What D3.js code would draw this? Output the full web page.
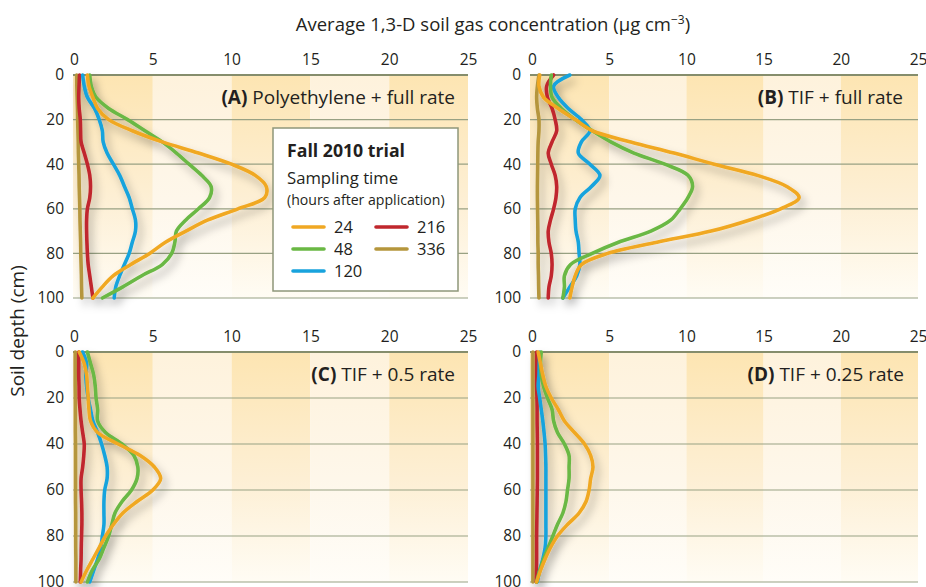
<!DOCTYPE html>
<html><head><meta charset="utf-8">
<script src="https://cdn.jsdelivr.net/npm/d3@7"></script>
<style>
html,body{margin:0;padding:0;background:#fff;}
svg{display:block;}
text{font-family:"Open Sans","Noto Sans",sans-serif;fill:#231f20;}
</style></head>
<body>
<svg id="chart" width="926" height="587"></svg>
<script>
// ---- data ----
const depths = [0,5,10,15,20,25,30,35,40,45,50,55,60,65,70,75,80,85,90,95,100];
const xTicks = [0,5,10,15,20,25];
const yTicks = [0,20,40,60,80,100];
const hours = ["24","48","120","216","336"];
const hourColors = ["#f0a823","#6ab844","#18a3dd","#c0272d","#b5963c"];

// Panel A: Polyethylene + full rate
const a24  = [0.85,0.95,1.2,1.5,2.2,3.7,5.6,7.9,10.0,11.5,12.2,12.1,10.4,8.5,7.1,5.8,4.8,3.6,2.5,1.8,1.2];
const a48  = [1.0,1.1,1.4,2.2,3.4,4.5,5.6,6.5,7.3,8.1,8.7,8.6,7.9,7.1,6.5,6.4,6.2,5.6,4.3,3.1,1.8];
const a120 = [0.55,0.65,0.85,1.3,1.6,1.8,1.85,2.1,2.5,2.9,3.2,3.5,3.7,3.9,3.9,3.7,3.5,3.2,2.9,2.65,2.55];
const a216 = [0.35,0.32,0.3,0.33,0.4,0.42,0.45,0.65,0.85,1.0,1.05,1.0,0.85,0.8,0.8,0.82,0.85,0.9,1.0,1.1,1.2];
const a336 = [0.17,0.18,0.2,0.22,0.23,0.25,0.27,0.28,0.3,0.32,0.33,0.35,0.37,0.38,0.4,0.42,0.43,0.45,0.47,0.48,0.5];
// Panel B: TIF + full rate
const b24  = [0.5,0.45,0.75,1.7,2.8,3.9,6.4,9.2,11.8,14.6,16.5,17.3,16.1,14.1,11.6,8.1,4.9,3.2,2.8,2.6,2.45];
const b48  = [1.25,1.2,1.3,1.9,2.8,3.9,5.1,6.6,8.6,10.1,10.4,10.1,9.6,9.0,7.7,5.6,3.9,2.5,2.1,2.1,2.0];
const b120 = [2.45,1.4,1.7,2.35,3.2,3.75,3.2,3.0,3.75,4.4,3.85,3.1,2.8,2.8,2.85,3.0,3.05,3.1,2.9,2.45,2.0];
const b216 = [1.4,0.95,1.0,1.3,1.5,1.6,1.3,1.05,1.25,1.5,1.6,1.55,1.4,1.2,1.05,1.1,1.25,1.3,1.25,1.1,1.05];
const b336 = [0.45,0.35,0.3,0.35,0.45,0.45,0.4,0.38,0.37,0.36,0.35,0.35,0.36,0.37,0.38,0.38,0.4,0.4,0.42,0.43,0.45];
// Panel C: TIF + 0.5 rate
const c24  = [0.33,0.65,0.8,0.85,0.9,0.95,1.05,1.5,2.8,4.2,5.1,5.5,5.0,4.0,3.1,2.5,2.0,1.6,1.2,0.8,0.45];
const c48  = [0.85,1.05,1.25,1.35,1.4,1.5,1.5,2.0,3.05,3.8,4.05,4.0,3.65,3.05,2.6,2.4,2.2,1.9,1.6,1.15,0.85];
const c120 = [0.55,0.8,0.75,0.8,0.9,1.05,1.2,1.5,1.75,1.95,2.1,2.1,1.95,1.9,1.9,1.9,1.8,1.7,1.5,1.25,1.0];
const c216 = [0.3,0.3,0.3,0.32,0.33,0.38,0.45,0.55,0.65,0.62,0.55,0.45,0.45,0.48,0.5,0.5,0.48,0.46,0.45,0.42,0.4];
const c336 = [0.08,0.08,0.08,0.08,0.09,0.09,0.09,0.09,0.1,0.1,0.1,0.1,0.1,0.1,0.11,0.11,0.11,0.11,0.12,0.12,0.12];
// Panel D: TIF + 0.25 rate
const d24  = [0.4,0.55,0.7,0.9,1.25,1.7,2.1,2.75,3.4,3.8,3.95,3.8,3.7,3.5,3.05,2.3,1.65,1.2,0.85,0.55,0.3];
const d48  = [0.6,0.55,0.6,0.75,1.0,1.3,1.4,1.65,2.1,2.4,2.4,2.4,2.3,2.2,2.0,1.65,1.35,1.05,0.75,0.5,0.3];
const d120 = [0.5,0.47,0.45,0.4,0.5,0.6,0.7,0.78,0.85,0.88,0.9,0.9,0.9,0.9,0.9,0.9,0.9,0.85,0.7,0.5,0.35];
const d216 = [0.3,0.3,0.3,0.3,0.32,0.33,0.33,0.34,0.35,0.35,0.35,0.35,0.34,0.33,0.32,0.31,0.3,0.3,0.3,0.29,0.28];
const d336 = [0.06,0.06,0.06,0.06,0.06,0.06,0.06,0.06,0.06,0.06,0.06,0.06,0.06,0.06,0.06,0.06,0.06,0.06,0.06,0.06,0.06];

const panelKeys = ["(A)","(B)","(C)","(D)"];
const panelTitles = [" Polyethylene + full rate"," TIF + full rate"," TIF + 0.5 rate"," TIF + 0.25 rate"];
const panelSeries = [[a24,a48,a120,a216,a336],[b24,b48,b120,b216,b336],[c24,c48,c120,c216,c336],[d24,d48,d120,d216,d336]];

// ---- layout ----
const svg = d3.select("#chart");
const layouts = [
  {x0:74, x1:468, y0:75, y1:298, left:73, lx:455},
  {x0:532, x1:918, y0:75, y1:298, left:530, lx:903},
  {x0:74, x1:468, y0:352, y1:582, left:73, lx:455},
  {x0:532, x1:918, y0:352, y1:582, left:530, lx:904}
];

const defs = svg.append("defs");
function grad(id, top, mid, bot){
  const g = defs.append("linearGradient").attr("id",id).attr("x1",0).attr("y1",0).attr("x2",0).attr("y2",1);
  g.append("stop").attr("offset","0%").attr("stop-color",top);
  g.append("stop").attr("offset","55%").attr("stop-color",mid);
  g.append("stop").attr("offset","100%").attr("stop-color",bot);
}
grad("bandDark","#fde5b2","#fdefd4","#fffcf4");
grad("bandLight","#fef2dc","#fef7ea","#fffdf8");
const f = defs.append("filter").attr("id","shadow").attr("x","-20%").attr("y","-20%").attr("width","160%").attr("height","160%");
f.append("feGaussianBlur").attr("in","SourceAlpha").attr("stdDeviation",4).attr("result","b");
f.append("feOffset").attr("in","b").attr("dx",4).attr("dy",6).attr("result","o");
f.append("feFlood").attr("flood-color","#000").attr("flood-opacity",0.3);
f.append("feComposite").attr("in2","o").attr("operator","in").attr("result","s");
const m = f.append("feMerge");
m.append("feMergeNode").attr("in","s");
m.append("feMergeNode").attr("in","SourceGraphic");

// title
const t = svg.append("text").attr("x",493).attr("y",31).attr("text-anchor","middle").style("font-size","18.5px");
t.append("tspan").text("Average 1,3-D soil gas concentration (µg cm");
t.append("tspan").attr("dy",-7).style("font-size","12px").text("−3");
t.append("tspan").attr("dy",7).text(")");

// y axis title
svg.append("text").attr("transform","translate(24,331) rotate(-90)").attr("text-anchor","middle")
  .style("font-size","19px").text("Soil depth (cm)");

layouts.forEach((L,i)=>{
  const x = d3.scaleLinear().domain([0,25]).range([L.x0,L.x1]);
  const y = d3.scaleLinear().domain([0,100]).range([L.y0,L.y1]);
  const g = svg.append("g");
  // bands
  const bands = d3.range(0,25,5);
  g.selectAll("rect.band").data(bands).join("rect")
    .attr("x",d=> d===0 ? L.left : x(d))
    .attr("y",L.y0)
    .attr("width",d=> x(d+5) - (d===0 ? L.left : x(d)))
    .attr("height",L.y1-L.y0)
    .attr("fill",d=> (d/5)%2===0 ? "url(#bandDark)" : "url(#bandLight)");
  // gridlines
  g.selectAll("line.grid").data(yTicks).join("line")
    .attr("x1",L.left).attr("x2",L.x1)
    .attr("y1",d=>y(d)).attr("y2",d=>y(d))
    .attr("stroke",d=> d===0 ? "#858d6c" : "#98a183")
    .attr("stroke-width",d=> d===0 ? 1.8 : 1.2);
  // x axis (top)
  const xa = g.append("g").attr("transform",`translate(0,${L.y0-10})`)
    .call(d3.axisTop(x).tickValues(xTicks).tickSize(0).tickPadding(0));
  xa.select(".domain").remove();
  xa.selectAll("text").style("font-size","15.5px").style("font-family","'Open Sans',sans-serif").attr("fill","#231f20");
  // y axis
  const ya = g.append("g").attr("transform",`translate(${L.left-9},0)`)
    .call(d3.axisLeft(y).tickValues(yTicks).tickSize(0).tickPadding(0));
  ya.select(".domain").remove();
  ya.selectAll("text").style("font-size","15.5px").style("font-family","'Open Sans',sans-serif").attr("fill","#231f20");
  // lines
  const line = d3.line().x(d=>x(d[0])).y(d=>y(d[1])).curve(d3.curveCatmullRom.alpha(0.5));
  const lg = g.append("g").attr("filter","url(#shadow)");
  const order = [4,3,2,1,0];
  order.forEach(k=>{
    const vals = panelSeries[i][k];
    lg.append("path").datum(vals.map((v,j)=>[v,depths[j]]))
      .attr("d",line).attr("fill","none").attr("stroke",hourColors[k])
      .attr("stroke-width",3.6).attr("stroke-linecap","round").attr("stroke-linejoin","round");
  });
  // panel label
  const pl = g.append("text").attr("x",L.lx).attr("y",L.y0+29).attr("text-anchor","end").style("font-size","19px");
  pl.append("tspan").style("font-weight","bold").text(panelKeys[i]);
  pl.append("tspan").text(panelTitles[i]);
});

// legend
const lgd = svg.append("g");
lgd.append("rect").attr("x",273).attr("y",128).attr("width",185).attr("height",163)
  .attr("fill","#fff").attr("stroke","#8e977a").attr("stroke-width",1.5);
lgd.append("text").attr("x",287).attr("y",157).style("font-size","17.7px").style("font-weight","bold").text("Fall 2010 trial");
lgd.append("text").attr("x",287).attr("y",184).style("font-size","16.7px").text("Sampling time");
lgd.append("text").attr("x",287).attr("y",205).style("font-size","14.1px").text("(hours after application)");
const legPos = [[293,227],[293,249],[293,271],[376,227],[376,249]];
hours.forEach((h,k)=>{
  const [lx,ly] = legPos[k];
  lgd.append("line").attr("x1",lx).attr("x2",lx+31).attr("y1",ly).attr("y2",ly)
    .attr("stroke",hourColors[k]).attr("stroke-width",3.6).attr("stroke-linecap","round");
  lgd.append("text").attr("x",lx+41).attr("y",ly+6).style("font-size","16.5px").text(h);
});
</script>
</body></html>
